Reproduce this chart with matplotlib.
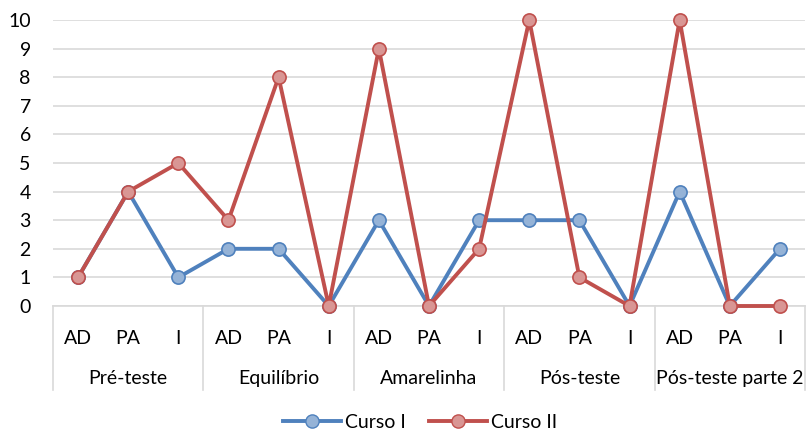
import numpy as np
import matplotlib.pyplot as plt
from matplotlib.lines import Line2D

plt.rcParams['font.family'] = ['Lato', 'DejaVu Sans']

# data
groups = ["Pré-teste", "Equilíbrio", "Amarelinha", "Pós-teste", "Pós-teste parte 2"]
sub_labels = ["AD", "PA", "I"]
curso1 = [1, 4, 1, 2, 2, 0, 3, 0, 3, 3, 3, 0, 4, 0, 2]
curso2 = [1, 4, 5, 3, 8, 0, 9, 0, 2, 10, 1, 0, 10, 0, 0]

x = np.arange(len(curso1))
fs = 14

fig = plt.figure(figsize=(8.06, 4.32), dpi=100)
ax = fig.add_axes([53/806, 126/432, 752/806, 286/432])

ax.plot(x, curso1, color="#4f81bd", lw=2.8, marker="o", ms=9.5,
        mfc="#95b3d7", mec="#4f81bd", mew=1.2, label="Curso I",
        solid_capstyle="round", zorder=3, clip_on=False)
ax.plot(x, curso2, color="#c0504d", lw=2.8, marker="o", ms=9.5,
        mfc="#d99694", mec="#c0504d", mew=1.2, label="Curso II",
        solid_capstyle="round", zorder=4, clip_on=False)

ax.set_xlim(-0.5, len(x) - 0.5)
ax.set_ylim(0, 10)
ax.set_yticks(range(0, 11))
ax.tick_params(axis="y", length=0, pad=16, labelsize=fs)
ax.yaxis.grid(True, color="#d9d9d9", lw=1.2)
ax.set_axisbelow(True)
for s in ["top", "right", "left"]:
    ax.spines[s].set_visible(False)
ax.spines["bottom"].set_color("#d9d9d9")
ax.spines["bottom"].set_linewidth(1.2)

ax.set_xticks(x)
ax.set_xticklabels(sub_labels * len(groups))
ax.tick_params(axis="x", length=0, pad=17, labelsize=fs)

# group separators and labels
trans = ax.get_xaxis_transform()
for i in range(len(groups) + 1):
    xs = i * 3 - 0.5
    ax.plot([xs, xs], [0, -0.295], color="#d9d9d9", lw=1.2,
            transform=trans, clip_on=False)
for i, g in enumerate(groups):
    ax.text(i * 3 + 1, -0.252, g, transform=trans, ha="center", va="center",
            fontsize=fs)

handles = [
    Line2D([], [], color="#4f81bd", lw=2.8, marker="o", ms=9.5,
           mfc="#95b3d7", mec="#4f81bd"),
    Line2D([], [], color="#c0504d", lw=2.8, marker="o", ms=9.5,
           mfc="#d99694", mec="#c0504d"),
]
fig.legend(handles, ["Curso I", "Curso II"], loc="center",
           bbox_to_anchor=(420/806, 1 - 422/432), ncol=2, frameon=False,
           fontsize=fs, handlelength=3.0, columnspacing=1.2,
           handletextpad=0.2)

fig.savefig("out.png", dpi=100)
